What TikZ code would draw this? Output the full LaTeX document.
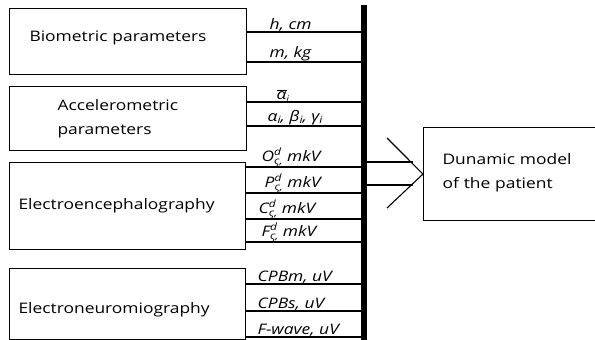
\documentclass[tikz,border=0pt]{standalone}
\usepackage{fontspec}
\setmainfont{Open Sans}[FakeStretch=1.2]
\usetikzlibrary{positioning, calc}
\newcommand{\supsub}[2]{\rlap{\raisebox{6pt}{\fontsize{10}{10}\selectfont #1}}\raisebox{-3pt}{\fontsize{10}{10}\selectfont #2}}
\tikzset{
  parambox/.style={draw, line width=1.1pt, anchor=north west, inner ysep=0pt, align=left, font=\fontsize{14.5}{24}\selectfont},
  unitlabel/.style={anchor=south west, inner sep=0.5pt, font=\itshape\fontsize{14.5}{16}\selectfont},
  tapline/.style={line width=1.1pt},
}

\begin{document}
\begin{tikzpicture}[x=1pt, y=-1pt]
  \useasboundingbox (0,0) rectangle (595,340);
  \clip (0,0) rectangle (595,340);

  % Collector bar
  \node[fill=black, inner sep=0pt, minimum width=5.5pt, minimum height=336pt, anchor=north] (bar) at (364,5) {};

  % Biometric parameters
  \node[parambox, minimum width=237pt, minimum height=66pt, inner xsep=20pt, text width=197pt] (bio) at (9,8) {Biometric parameters\\[-14pt]\mbox{}};
  \node[unitlabel] (h) at (269,32) {h, cm};
  \node[unitlabel] (m) at (269,62) {m, kg};
  \draw[tapline] (bio.east |- h.south) -- (bar.west |- h.south);
  \draw[tapline] (bio.east |- m.south) -- (bar.west |- m.south);

  % Accelerometric parameters
  \node[parambox, minimum width=237pt, minimum height=64pt, inner xsep=48pt, text width=141pt] (acc) at (9,86) {Accelerometric\\parameters};
  \node[unitlabel] (abar) at (276,102) {$\overline{\mbox{α}}$\raisebox{-2pt}{\fontsize{8}{8}\selectfont i}};
  \node[unitlabel] (abg) at (267,126) {α\raisebox{-2pt}{\fontsize{10}{10}\selectfont i}, β\raisebox{-2pt}{\fontsize{10}{10}\selectfont i}, γ\raisebox{-2pt}{\fontsize{10}{10}\selectfont i}};
  \draw[tapline] (acc.east |- abar.south) -- (bar.west |- abar.south);
  \draw[tapline] (acc.east |- abg.south) -- (bar.west |- abg.south);

  % Electroencephalography
  \node[parambox, minimum width=236pt, minimum height=87pt, inner xsep=9pt, text width=218pt] (eeg) at (9,162) {Electroencephalography};
  \node[unitlabel] (o) at (261,167) {O\supsub{d}{ς,} mkV};
  \node[unitlabel] (p) at (264,193) {P\supsub{d}{ς,} mkV};
  \node[unitlabel] (c) at (258,219) {C\supsub{d}{ς,} mkV};
  \node[unitlabel] (f) at (261,242) {F\supsub{d}{ς,} mkV};
  \foreach \lab in {o, p, c, f}
    \draw[tapline] (eeg.east |- \lab.south) -- (bar.west |- \lab.south);

  % Electroneuromiography
  \node[parambox, minimum width=236pt, minimum height=71pt, inner xsep=9pt, text width=218pt] (enmg) at (9,268) {\\[-2pt]Electroneuromiography};
  \node[unitlabel] (cpbm) at (257,284) {CPBm, uV};
  \node[unitlabel] (cpbs) at (257,311) {CPBs, uV};
  \node[unitlabel] (fw) at (257,337) {F-wave, uV};
  \foreach \lab in {cpbm, cpbs, fw}
    \draw[tapline] (enmg.east |- \lab.south) -- (bar.west |- \lab.south);

  % Dynamic model
  \node[parambox, minimum width=180pt, minimum height=93pt, inner xsep=19pt, text width=150pt] (model) at (423,127) {Dunamic model\\of the patient\\[-17pt]\mbox{}};

  % Double arrow into the model
  \coordinate (shaftA) at (413,162);
  \coordinate (shaftB) at (413,185);
  \coordinate (wingA) at (387,138);
  \coordinate (wingB) at (387,208);
  \draw[tapline] (bar.east |- shaftA) -- (shaftA);
  \draw[tapline] (bar.east |- shaftB) -- (shaftB);
  \draw[tapline] (wingA) -- (model.west) -- (wingB);
\end{tikzpicture}
\end{document}
